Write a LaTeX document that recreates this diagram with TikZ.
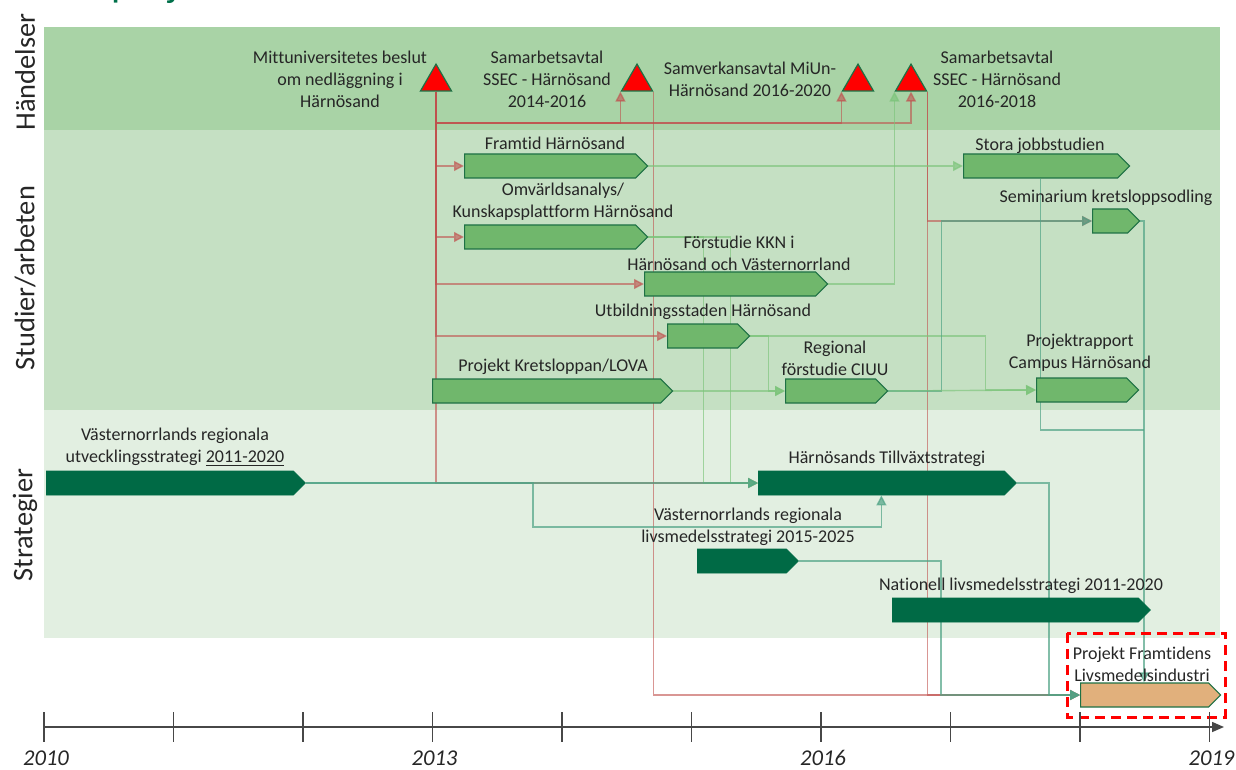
\documentclass[tikz,border=0pt]{standalone}
\usepackage{fontspec}
\setmainfont{Carlito}[Ligatures={NoCommon,NoContextual,NoRequired}, Contextuals=NoAlternate]
\usepackage{tikz}
\usetikzlibrary{arrows.meta,shapes.geometric,shapes.symbols,positioning}
\definecolor{bandA}{HTML}{A9D3A6}
\definecolor{bandB}{HTML}{C5E0C3}
\definecolor{bandC}{HTML}{E2EFE1}
\definecolor{studfill}{HTML}{70B76C}
\definecolor{studline}{HTML}{1E7145}
\definecolor{strat}{HTML}{006A45}
\definecolor{goal}{HTML}{E1B07C}
\definecolor{evred}{HTML}{FF0000}
\definecolor{txt}{HTML}{262626}
\definecolor{rl}{HTML}{C0504D}
\definecolor{gl}{HTML}{7CC47A}
\definecolor{tl}{HTML}{4FA385}
\definecolor{ttl}{HTML}{00704A}
\pgfdeclarelayer{bg}
\pgfdeclarelayer{links}
\pgfsetlayers{bg,links,main}
\tikzset{
  ev/.style={regular polygon, regular polygon sides=3, minimum size=17.9pt, inner sep=0pt, fill=evred, draw=studline, line width=0.6pt},
  bar/.style={signal, signal to=east, signal pointer angle=90, inner sep=0pt, minimum height=12pt, anchor=west},
  studbar/.style={bar, fill=studfill, draw=studline, line width=0.6pt},
  stratbar/.style={bar, fill=strat, draw=strat, line width=0.4pt},
  goalbar/.style={bar, fill=goal, draw=studline, line width=0.6pt},
  lab/.style={text=txt, font=\fontsize{9}{11}\selectfont, align=center, inner sep=0pt},
  side/.style={text=txt, font=\fontsize{14.2}{16}\selectfont, rotate=90, inner sep=0pt},
  yr/.style={text=txt, font=\fontsize{11.3}{13}\selectfont\itshape, inner sep=0pt},
  link/.style={line width=0.7pt, -{Triangle[length=5pt,width=5pt]}},
  rlink/.style={link, draw=rl, opacity=.6},
  glink/.style={link, draw=gl, opacity=.65},
  tlink/.style={link, draw=tl, opacity=.7},
  axis/.style={draw=txt!85, line width=0.75pt},
  hilite/.style={draw=evred, line width=1.5pt, dash pattern=on 5pt off 3pt},
}
\begin{document}
\begin{tikzpicture}[x=0.5pt, y=-0.5pt]
\useasboundingbox (0,0) rectangle (1236,770);
\begin{pgfonlayer}{bg}
\fill[bandA] (44,27) rectangle (1220,130);
\fill[bandB] (44,130) rectangle (1220,410);
\fill[bandC] (44,410) rectangle (1220,638);
\end{pgfonlayer}
\node[font=\fontsize{20.5}{24}\selectfont, text=ttl, anchor=base west, inner sep=0pt] (title) at (111,-3) {projekt};
\node[side] (sideA) at (25,72) {Händelser};
\node[side] (sideB) at (25,278) {Studier/arbeten};
\node[side] (sideC) at (25,525) {Strategier};

\node[ev] (t1) at (436,82) {};
\node[ev] (t2) at (637,82) {};
\node[ev] (t3) at (858,82) {};
\node[ev] (t4) at (911,82) {};
\node[lab] (t1L) at (340,79) {Mittuniversitetes beslut\\om nedläggning i\\Härnösand};
\node[lab] (t2L) at (547,79) {Samarbetsavtal\\SSEC - Härnösand\\2014-2016};
\node[lab] (t3L) at (750,79) {Samverkansavtal MiUn-\\Härnösand 2016-2020};
\node[lab] (t4L) at (997,79) {Samarbetsavtal\\SSEC - Härnösand\\2016-2018};

\node[studbar, minimum width=91.5pt] (fram) at (464,166) {};
\node[studbar, minimum width=91.5pt] (omv) at (464,237) {};
\node[studbar, minimum width=91.5pt] (kkn) at (644,284) {};
\node[studbar, minimum width=41pt] (utb) at (667,336) {};
\node[studbar, minimum width=120pt] (krets) at (432,391) {};
\node[studbar, minimum width=51pt] (ciuu) at (785,391) {};
\node[studbar, minimum width=83pt] (stora) at (963,166) {};
\node[studbar, minimum width=23.5pt] (sem) at (1092,221) {};
\node[studbar, minimum width=51pt] (prapp) at (1036,390) {};
\node[stratbar, minimum width=129.5pt] (utv) at (46,483) {};
\node[stratbar, minimum width=129pt] (tillv) at (758,483) {};
\node[stratbar, minimum width=50.5pt] (lvs) at (697,561) {};
\node[stratbar, minimum width=129pt] (nat) at (892,610) {};
\node[goalbar, minimum width=70pt] (fti) at (1080,695) {};

\node[lab] (framL) at (555,143) {Framtid Härnösand};
\node[lab] (omvL) at (563,202) {Omvärldsanalys/\\Kunskapsplattform Härnösand};
\node[lab] (kknL) at (739,253) {Förstudie KKN i\\Härnösand och Västernorrland};
\node[lab] (utbL) at (703,312) {Utbildningsstaden Härnösand};
\node[lab] (kretsL) at (553,367) {Projekt Kretsloppan/LOVA};
\node[lab] (ciuuL) at (835,358) {Regional\\förstudie CIUU};
\node[lab] (storaL) at (1040,146) {Stora jobbstudien};
\node[lab] (semL) at (1106,198) {Seminarium kretsloppsodling};
\node[lab] (prappL) at (1080,353) {Projektrapport\\Campus Härnösand};
\node[lab] (utvL) at (175,447) {Västernorrlands regionala\\utvecklingsstrategi \underline{2011-2020}};
\node[lab] (tillvL) at (887,459) {Härnösands Tillväxtstrategi};
\node[lab] (lvsL) at (748,527) {Västernorrlands regionala\\livsmedelsstrategi 2015-2025};
\node[lab] (natL) at (1021,586) {Nationell livsmedelsstrategi 2011-2020};
\node[lab] (ftiL) at (1142,664) {Projekt Framtidens\\Livsmedelsindustri};
\draw[hilite] (1067,633) rectangle (1225,717);

\begin{pgfonlayer}{links}
\coordinate (evbus) at (0,123);
\coordinate (jn) at (1144,430);
\draw[rlink] (t1.side 2) |- (fram.west);
\draw[rlink] (t1.side 2) |- (omv.west);
\draw[rlink] (t1.side 2) |- (kkn.west);
\draw[rlink] (t1.side 2) |- (utb.west);
\draw[rlink] (t1.side 2) |- (tillv.west);
\draw[rlink] (t1.side 2) |- (evbus -| t2.corner 2) -- (t2.corner 2);
\draw[rlink] (t1.side 2) |- (evbus -| t3.corner 2) -- (t3.corner 2);
\draw[rlink] (t1.side 2) |- (evbus -| t4.side 2) -- (t4.side 2);
\draw[rlink] (t2.corner 3) |- (fti.west);
\draw[rlink] (t4.corner 3) |- (sem.west);
\draw[rlink] (t4.corner 3) |- (fti.west);
\draw[glink] (fram.east) -- (stora.west);
\draw[glink] (kkn.east) -| (t4.corner 2);
\draw[glink] (omv.east) -- ++(55,0) |- (tillv.west);
\draw[glink] (omv.east) -- ++(82,0) |- (tillv.west);
\draw[glink] (utb.east) -- ++(18,0) |- (ciuu.west);
\draw[glink] (utb.east) -- ++(235,0) |- (prapp.west);
\draw[glink] (krets.east) -- (ciuu.west);
\draw[tlink] (ciuu.east) -- ++(53,0) |- (sem.west);
\draw[glink] (ciuu.east) -- (prapp.west);
\draw[tlink, -] (stora.south) |- (jn);
\draw[tlink] (sem.east) -| (jn) -- (jn |- fti.north);
\draw[tlink] (tillv.east) -- ++(32,0) |- (fti.west);
\draw[tlink] (lvs.east) -- ++(142,0) |- (fti.west);
\draw[tlink] (utv.east) -- (tillv.west);
\draw[tlink] (utv.east) -- ++(227,0) -- ++(0,44) -| (tillv.south);
\end{pgfonlayer}

\draw[axis, -{Triangle[length=6pt,width=5pt]}] (44,727) -- (1224,727);
\foreach \i in {0,...,9}
  \draw[axis] ({44+129.5*\i},712) -- ({44+129.5*\i},742);
\foreach \i/\y in {0/2010,3/2013,6/2016,9/2019}
  \node[yr] (y\y) at ({46+129.5*\i},758) {\y};
\end{tikzpicture}
\end{document}
